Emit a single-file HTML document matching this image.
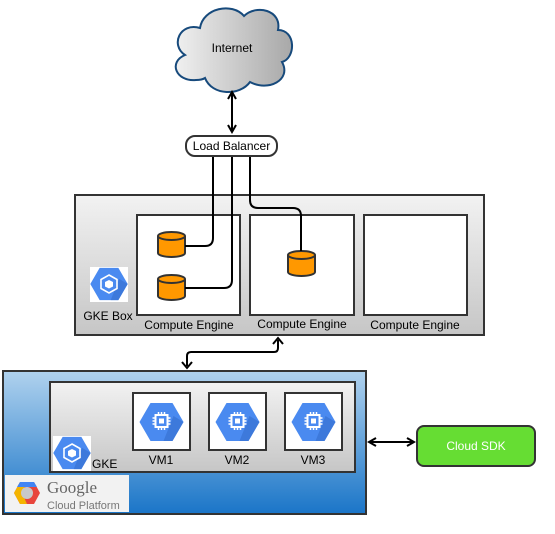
<!DOCTYPE html>
<html><head><meta charset="utf-8"><style>
html,body{margin:0;padding:0;background:#fff;width:555px;height:534px;overflow:hidden}
svg{display:block;font-family:"Liberation Sans",sans-serif}
</style></head><body>
<svg width="555" height="534" viewBox="0 0 555 534" xmlns="http://www.w3.org/2000/svg">
<defs>
<linearGradient id="cg" x1="0" x2="1" y1="0" y2="0"><stop offset="0" stop-color="#f0f0f0"/><stop offset="1" stop-color="#a8a8a8"/></linearGradient>
<linearGradient id="gg" x1="0" x2="0" y1="0" y2="1"><stop offset="0" stop-color="#f2f2f2"/><stop offset="1" stop-color="#c6c6c6"/></linearGradient>
<linearGradient id="bg" x1="0" x2="0" y1="0" y2="1"><stop offset="0" stop-color="#b0d2ee"/><stop offset="1" stop-color="#1a75c8"/></linearGradient>
<marker id="ah" markerWidth="10" markerHeight="10" refX="8" refY="5" orient="auto-start-reverse" markerUnits="userSpaceOnUse"><path d="M1,1 L8,5 L1,9" fill="none" stroke="#000" stroke-width="2"/></marker>
<g id="hex"><path d="M-11,-19 L11,-19 L22,0 L11,19 L-11,19 L-22,0 Z" fill="#4a8af0"/><path d="M2,19 L11,19 L22,0 L12,-6 Z" fill="#3a74d6" opacity="0.8"/></g>
<g id="chip"><rect x="-6" y="-6" width="12" height="12" fill="none" stroke="#fff" stroke-width="2"/><rect x="-2.5" y="-2.5" width="5" height="5" fill="#fff"/><path d="M-3,-9V-6M0,-9V-6M3,-9V-6M-3,9V6M0,9V6M3,9V6M-9,-3H-6M-9,0H-6M-9,3H-6M9,-3H6M9,0H6M9,3H6" stroke="#fff" stroke-width="1.5"/></g>
<g id="cube"><path d="M0,-9 L8,-4.5 L8,4.5 L0,9 L-8,4.5 L-8,-4.5Z" fill="none" stroke="#fff" stroke-width="1.6"/><path d="M0,-4 L4,-2 L4,2.5 L0,4.5 L-4,2.5 L-4,-2Z" fill="#fff"/></g>
<g id="cyl"><path d="M0,4 V21 A13.5,4 0 0 0 27,21 V4" fill="#ff9800" stroke="#333" stroke-width="2"/><ellipse cx="13.5" cy="4" rx="13.5" ry="4" fill="#ff9800" stroke="#333" stroke-width="2"/></g>
</defs>

<path d="M196,80 C176,82 168,62 185,55 C170,45 180,22 200,28 C203,8 232,2 244,16 C256,4 282,10 278,30 C296,30 296,58 282,62 C292,80 268,92 250,82 C240,96 212,96 205,78 C202,80 199,80 196,80 Z" fill="url(#cg)" stroke="#174a7c" stroke-width="2"/>
<text x="232" y="52" font-size="12" text-anchor="middle">Internet</text>

<line x1="232" y1="92" x2="232" y2="132" stroke="#000" stroke-width="2" marker-end="url(#ah)" marker-start="url(#ah)"/>

<rect x="75" y="195" width="409" height="140" fill="url(#gg)" stroke="#333" stroke-width="2"/>
<rect x="137" y="215" width="103" height="100" fill="#fff" stroke="#333" stroke-width="2"/>
<rect x="250" y="215" width="104" height="100" fill="#fff" stroke="#333" stroke-width="2"/>
<rect x="364" y="215" width="103" height="100" fill="#fff" stroke="#333" stroke-width="2"/>
<text x="189" y="329" font-size="12" text-anchor="middle">Compute Engine</text>
<text x="302" y="328" font-size="12" text-anchor="middle">Compute Engine</text>
<text x="415" y="329" font-size="12" text-anchor="middle">Compute Engine</text>
<rect x="90" y="267" width="38" height="35" fill="#fff"/>
<use href="#hex" transform="translate(109,284) scale(0.85)"/>
<use href="#cube" transform="translate(109,284)"/>
<text x="108" y="320" font-size="12" text-anchor="middle">GKE Box</text>

<use href="#cyl" x="158" y="232"/>
<use href="#cyl" x="158" y="275"/>
<use href="#cyl" x="288" y="251"/>

<path d="M213,156 V238 Q213,246 205,246 H185" fill="none" stroke="#000" stroke-width="2"/>
<path d="M232,156 V280 Q232,288 224,288 H185" fill="none" stroke="#000" stroke-width="2"/>
<path d="M250,156 V200 Q250,208 258,208 H293 Q301,208 301,216 V251" fill="none" stroke="#000" stroke-width="2"/>

<rect x="186" y="136" width="91" height="20" rx="9" fill="#fff" stroke="#333" stroke-width="2"/>
<text x="231.5" y="150" font-size="12" text-anchor="middle">Load Balancer</text>

<path d="M278,340 V348 Q278,352 274,352 H191 Q187,352 187,356 V366" fill="none" stroke="#000" stroke-width="2"/>
<path d="M273,344 L278,338 L283,344" fill="none" stroke="#000" stroke-width="2"/>
<path d="M182,362 L187,368 L192,362" fill="none" stroke="#000" stroke-width="2"/>

<rect x="3" y="371" width="363" height="143" fill="url(#bg)" stroke="#333" stroke-width="2"/>
<rect x="50" y="382" width="305" height="90" fill="url(#gg)" stroke="#333" stroke-width="2"/>
<rect x="133" y="393" width="57" height="57" fill="#fff" stroke="#333" stroke-width="2"/>
<rect x="209" y="393" width="57" height="57" fill="#fff" stroke="#333" stroke-width="2"/>
<rect x="285" y="393" width="57" height="57" fill="#fff" stroke="#333" stroke-width="2"/>
<use href="#hex" transform="translate(161.5,422)"/><use href="#chip" transform="translate(161.5,421)"/>
<use href="#hex" transform="translate(237.5,422)"/><use href="#chip" transform="translate(237.5,421)"/>
<use href="#hex" transform="translate(313.5,422)"/><use href="#chip" transform="translate(313.5,421)"/>
<text x="161" y="464" font-size="12" text-anchor="middle">VM1</text>
<text x="237" y="464" font-size="12" text-anchor="middle">VM2</text>
<text x="313" y="464" font-size="12" text-anchor="middle">VM3</text>
<rect x="53" y="436" width="38" height="35" fill="#fff"/>
<use href="#hex" transform="translate(72,453) scale(0.85)"/>
<use href="#cube" transform="translate(72,453)"/>
<text x="92" y="468" font-size="12">GKE</text>

<rect x="5" y="475" width="124" height="37" fill="#f2f2f2"/>
<path d="M14,493 L20,482 L34,482 L40,493 L34,504 L20,504 Z" fill="#e8453c"/>
<path d="M14,493 L20,482 L27,482 L22,493 L27,504 L20,504 Z" fill="#f4b400"/>
<path d="M20,482 L34,482 L37,487 L17,487 Z" fill="#4285f4"/>
<circle cx="27" cy="493" r="6" fill="#c8c8c8"/>
<text x="47" y="493" font-size="17" font-family="Liberation Serif,serif" fill="#666">Google</text>
<text x="47" y="509" font-size="11" fill="#777">Cloud Platform</text>

<line x1="369" y1="442" x2="414" y2="442" stroke="#000" stroke-width="2" marker-end="url(#ah)" marker-start="url(#ah)"/>
<rect x="417" y="426" width="118" height="40" rx="7" fill="#66dd33" stroke="#333" stroke-width="2"/>
<text x="476" y="450" font-size="12" fill="#fff" text-anchor="middle">Cloud SDK</text>
</svg>
</body></html>
